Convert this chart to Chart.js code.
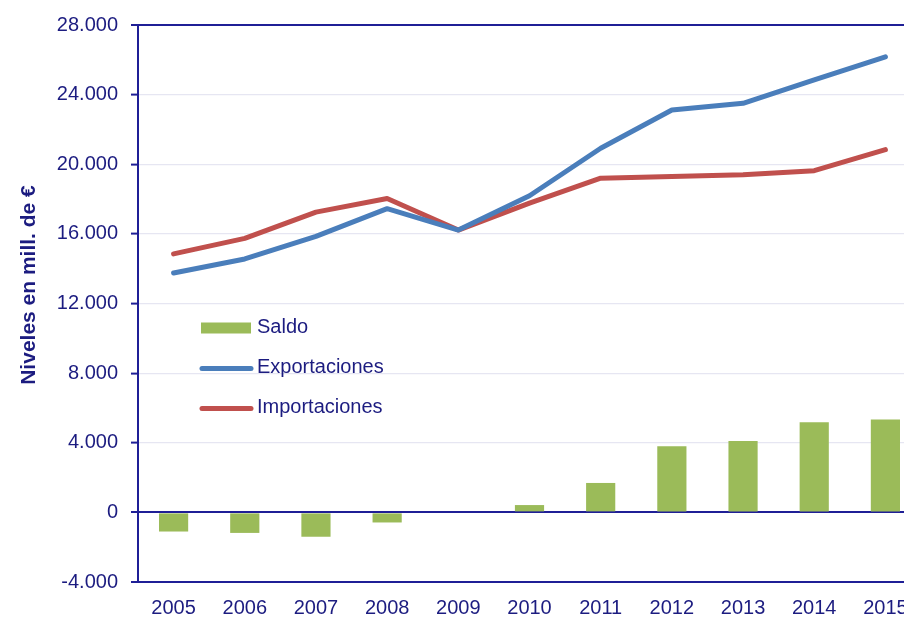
<!DOCTYPE html>
<html>
<head>
<meta charset="utf-8">
<script src="https://cdn.jsdelivr.net/npm/chart.js@4.4.1/dist/chart.umd.min.js"></script>
<style>
  html, body { margin: 0; padding: 0; background: #ffffff; overflow: hidden; }
  canvas { display: block; }
</style>
</head>
<body>
<canvas id="c" width="930" height="619"></canvas>
<script>
const years = ['2005','2006','2007','2008','2009','2010','2011','2012','2013','2014','2015'];
const saldo = [-1100, -1180, -1400, -580, 0, 420, 1690, 3800, 4100, 5180, 5330];
const exportaciones = [13750, 14560, 15860, 17450, 16220, 18190, 20920, 23120, 23500, 24850, 26170];
const importaciones = [14850, 15740, 17250, 18030, 16220, 17770, 19200, 19300, 19400, 19630, 20840];
const yTicks = [-4000, 0, 4000, 8000, 12000, 16000, 20000, 24000, 28000];
const yTitle = 'Niveles en mill. de €';
const legendOrder = ['Saldo', 'Exportaciones', 'Importaciones'];

const NAVY = '#1f1f96';
const TEXT = '#1c1c80';
const FONT = '"Liberation Sans", Arial, sans-serif';

function fmt(v) {
  const s = Math.abs(v).toString().replace(/\B(?=(\d{3})+(?!\d))/g, '.');
  return (v < 0 ? '-' : '') + s;
}

const overlay = {
  id: 'overlay',
  afterDraw(chart) {
    const ctx = chart.ctx;
    const a = chart.chartArea;
    ctx.save();
    // Y axis title
    ctx.translate(29, 285);
    ctx.rotate(-Math.PI / 2);
    ctx.font = 'bold 21px ' + FONT;
    ctx.fillStyle = TEXT;
    ctx.textAlign = 'center';
    ctx.textBaseline = 'middle';
    ctx.fillText(yTitle, 0, 0);
    ctx.restore();

    // Legend inside the plot area
    const x0 = a.left + 63, x1 = a.left + 113, tx = a.left + 119;
    const rows = [a.top + 303, a.top + 343.5, a.top + 383.5];
    ctx.save();
    ctx.font = '20px ' + FONT;
    ctx.textBaseline = 'middle';
    ctx.textAlign = 'left';
    legendOrder.forEach((name, k) => {
      const d = chart.data.datasets.find(s => s.label === name);
      const y = rows[k];
      if (d.type === 'bar') {
        ctx.fillStyle = d.backgroundColor;
        ctx.fillRect(x0, y - 5.5, x1 - x0, 11);
      } else {
        ctx.strokeStyle = d.borderColor;
        ctx.lineWidth = 5;
        ctx.lineCap = 'round';
        ctx.beginPath();
        ctx.moveTo(x0 + 1, y);
        ctx.lineTo(x1, y);
        ctx.stroke();
      }
      ctx.fillStyle = TEXT;
      ctx.fillText(d.label, tx, y - 1);
    });
    ctx.restore();
  }
};

new Chart(document.getElementById('c'), {
  data: {
    labels: years,
    datasets: [
      {
        type: 'line', label: 'Exportaciones', data: exportaciones,
        borderColor: '#4a7ebb', backgroundColor: '#4a7ebb', borderWidth: 5,
        pointRadius: 0, borderCapStyle: 'round', borderJoinStyle: 'round', tension: 0, order: 1
      },
      {
        type: 'line', label: 'Importaciones', data: importaciones,
        borderColor: '#c0504d', backgroundColor: '#c0504d', borderWidth: 5,
        pointRadius: 0, borderCapStyle: 'round', borderJoinStyle: 'round', tension: 0, order: 2
      },
      {
        type: 'bar', label: 'Saldo', data: saldo,
        backgroundColor: '#9bbb59', borderWidth: 0,
        barPercentage: 0.41, categoryPercentage: 1, order: 3
      }
    ]
  },
  options: {
    responsive: false,
    animation: false,
    events: [],
    layout: { padding: { top: 23, right: 9, left: 0, bottom: 0 } },
    plugins: { legend: { display: false }, tooltip: { enabled: false } },
    scales: {
      x: {
        type: 'category',
        offset: true,
        grid: { display: false, drawTicks: false },
        border: { display: true, color: NAVY, width: 2 },
        ticks: { color: TEXT, font: { family: FONT, size: 20 }, padding: 14, maxRotation: 0, autoSkip: false },
        afterFit(s) { s.height = 37; }
      },
      y: {
        min: -4000, max: 28000,
        afterBuildTicks(s) { s.ticks = yTicks.map(v => ({ value: v })); },
        grid: {
          color: c => ([0, 28000, -4000].includes(c.tick && c.tick.value) ? NAVY : '#e6e6f2'),
          lineWidth: c => ([0, 28000, -4000].includes(c.tick && c.tick.value) ? 2 : 1.2),
          tickColor: NAVY,
          tickLength: 7,
          tickWidth: 2,
          drawTicks: true
        },
        border: { display: true, color: NAVY, width: 2 },
        ticks: {
          color: TEXT, font: { family: FONT, size: 20 }, padding: 13,
          callback: v => fmt(v)
        },
        afterFit(s) { s.width = 138; }
      }
    }
  },
  plugins: [overlay]
});
</script>
</body>
</html>
